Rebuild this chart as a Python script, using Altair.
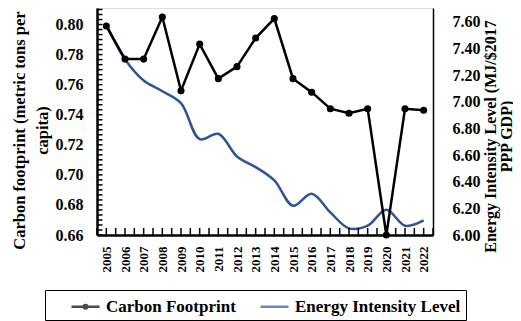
import altair as alt
import pandas as pd

years = [2005, 2006, 2007, 2008, 2009, 2010, 2011, 2012, 2013, 2014,
         2015, 2016, 2017, 2018, 2019, 2020, 2021, 2022]
carbon = [0.799, 0.777, 0.777, 0.805, 0.756, 0.787, 0.764, 0.772, 0.791, 0.804,
          0.764, 0.755, 0.744, 0.741, 0.744, 0.660, 0.744, 0.743]
energy = [7.58, 7.32, 7.16, 7.08, 6.99, 6.72, 6.76, 6.59, 6.51, 6.41,
          6.22, 6.31, 6.17, 6.05, 6.07, 6.19, 6.07, 6.11]
series_names = ["Carbon Footprint", "Energy Intensity Level"]
series_colors = ["#000000", "#2F5597"]
left_ticks = [0.66, 0.68, 0.70, 0.72, 0.74, 0.76, 0.78, 0.80]
right_ticks = [6.0, 6.2, 6.4, 6.6, 6.8, 7.0, 7.2, 7.4, 7.6]

FONT = "Liberation Serif"
W, H = 336, 227

x_dom = [years[0] - 0.5, years[-1] + 0.5]
yl_dom = [0.66, 0.811]
yr_dom = [6.0, 7.705]

df_c = pd.DataFrame({"year": years, "value": carbon, "series": series_names[0]})
df_e = pd.DataFrame({"year": years, "value": energy, "series": series_names[1]})

# inner tick-mark positions (axis decoration)
x_tick_vals = [y - 0.5 for y in years] + years + [years[-1] + 0.5]
left_minor = [round(left_ticks[0] + i * 0.02 / 6, 5) for i in range(46)]
df_xt = pd.DataFrame({"year": x_tick_vals, "value": [yl_dom[0]] * len(x_tick_vals)})
df_yt = pd.DataFrame({"year": [x_dom[0]] * len(left_minor), "value": left_minor})


def sc(dom):
    return alt.Scale(domain=dom, nice=False, zero=False)


legend = alt.Legend(
    orient="none", legendX=-52, legendY=282, direction="horizontal",
    title=" ", titleOrient="left", titleFontSize=11, titlePadding=24,
    columns=2, strokeColor="black", padding=5,
    labelFont=FONT, labelFontSize=17, labelFontWeight="bold",
    labelColor="black", labelOffset=9, columnPadding=19, labelLimit=300,
    labelExpr="datum.label + '   '",
    symbolSize=400, symbolStrokeWidth=2.5,
)
color = alt.Color("series:N", scale=alt.Scale(domain=series_names, range=series_colors),
                  legend=legend)
shape = alt.Shape(
    "series:N",
    scale=alt.Scale(domain=series_names, range=[
        "M-1.4,0H1.4M-0.18,0A0.18,0.18 0 1,1 0.18,0A0.18,0.18 0 1,1 -0.18,0Z",
        "M-1.4,0H1.4"]),
    legend=legend,
)

x_main = alt.X("year:Q", scale=sc(x_dom), axis=alt.Axis(
    orient="bottom", title=None, values=years, format="d",
    labelAngle=-90, labelFont=FONT, labelFontSize=13, labelFontWeight="bold",
    labelColor="black", labelPadding=11, labelOverlap=False, ticks=False,
    domainColor="black", domainWidth=2.5, grid=False, zindex=0))
x_none = alt.X("year:Q", scale=sc(x_dom), axis=None)

y_left = alt.Y("value:Q", scale=sc(yl_dom), axis=alt.Axis(
    orient="left", title=["Carbon footprint (metric tons per", "capita)"],
    values=left_ticks, format=".2f",
    labelFont=FONT, labelFontSize=16, labelFontWeight="bold", labelColor="black",
    labelPadding=14, labelOverlap=False, ticks=False,
    domainColor="black", domainWidth=2.5, grid=False, zindex=0,
    titleFont=FONT, titleFontSize=16.5, titleFontWeight="bold", titleColor="black",
    titlePadding=5, titleLineHeight=23, titleY=122))
y_none = alt.Y("value:Q", scale=sc(yl_dom), axis=None)

y_right = alt.Y("value:Q", scale=sc(yr_dom), axis=alt.Axis(
    orient="right", title=["Energy Intensity Level (MJ/$2017", "PPP GDP)"],
    values=right_ticks, format=".2f",
    labelFont=FONT, labelFontSize=16, labelFontWeight="bold", labelColor="black",
    labelPadding=19, labelOverlap=False, ticks=False,
    domainColor="black", domainWidth=1.5, grid=False,
    titleFont=FONT, titleFontSize=16, titleFontWeight="bold", titleColor="black",
    titleAngle=270, titlePadding=3, titleLineHeight=15.5, titleY=128))

# legend-only layer (no rows drawn) that provides the line+dot legend symbol
legend_layer = alt.Chart(df_c).transform_filter("false").mark_point(
    filled=False, strokeWidth=2.5).encode(x=x_none, y=y_none, color=color, shape=shape)
# short inward tick marks along the bottom and left frame edges
xticks = alt.Chart(df_xt).mark_tick(
    orient="vertical", size=7, thickness=1.5, yOffset=-3.5, color="black", opacity=1).encode(
    x=x_none, y=y_none)
yticks = alt.Chart(df_yt).mark_tick(
    orient="horizontal", size=5.5, thickness=1.5, xOffset=2.75, color="black", opacity=1).encode(
    x=x_none, y=y_none)
carbon_line = alt.Chart(df_c).mark_line(strokeWidth=2.5).encode(
    x=x_main, y=y_left, color=color)
carbon_pts = alt.Chart(df_c).mark_point(filled=True, size=50, opacity=1).encode(
    x=x_none, y=y_none, color=color)
energy_line = alt.Chart(df_e).mark_line(strokeWidth=2.5, interpolate="catmull-rom").encode(
    x=x_none, y=y_right, color=color)

chart = alt.layer(
    legend_layer, energy_line, carbon_line, carbon_pts, xticks, yticks
).resolve_scale(x="independent", y="independent").properties(
    width=W, height=H,
    padding={"left": 89, "top": 0, "right": 80, "bottom": 86},
    autosize="none",
).configure_view(stroke="black", strokeWidth=1.2).configure_legend(
    strokeWidth=2).configure(background="white")

chart.save("out.html", embed_options={"renderer": "svg", "actions": False})
